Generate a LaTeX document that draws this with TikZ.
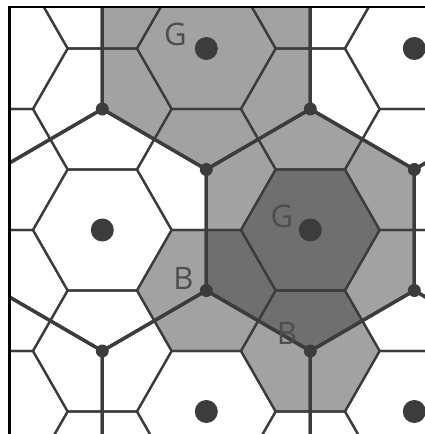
\documentclass[tikz,border=0pt]{standalone}
\usepackage{fontspec}
\setsansfont{Open Sans}
\definecolor{edge}{HTML}{3C3C3C}
\definecolor{lightfill}{HTML}{A2A2A2}
\definecolor{darkfill}{HTML}{6F6F6F}
\definecolor{letter}{HTML}{4D4D4D}
\tikzset{
  thinedge/.style={draw=edge, line width=2.2pt, line join=round},
  thickedge/.style={draw=edge, line width=3.3pt, line join=round},
  tag/.style={text=letter, font=\sffamily\fontsize{31}{31}\selectfont, inner sep=0pt},
}
% small flat-topped cell centred at lattice point (#1,#2)
\newcommand\cellpath[2]{({#1-2/3},#2) -- ({#1-1/3},{#2-1}) -- ({#1+1/3},{#2-1}) -- ({#1+2/3},#2) -- ({#1+1/3},{#2+1}) -- ({#1-1/3},{#2+1}) -- cycle}
% large pointy-topped zone centred at lattice point (#1,#2)
\newcommand\zonepath[2]{(#1,{#2-2}) -- ({#1+1},{#2-1}) -- ({#1+1},{#2+1}) -- (#1,{#2+2}) -- ({#1-1},{#2+1}) -- ({#1-1},{#2-1}) -- cycle}
\begin{document}
\begin{tikzpicture}[x=1pt,y=-1pt]
\useasboundingbox (0,0) rectangle (425,434);
\fill[white] (0,0) rectangle (425,434);
\begin{scope}
  \clip (9.6,7) rectangle (426,435);
  \begin{scope}[shift={(102.3,230)}, x={(104pt,0pt)}, y={(0pt,-60.5pt)}]
    % shaded zones
    \fill[lightfill] \zonepath{1}{-3};
    \fill[lightfill] \zonepath{2}{0};
    \fill[lightfill] \cellpath{1}{1};
    \fill[lightfill] \cellpath{2}{2};
    \begin{scope}
      \clip \zonepath{2}{0};
      \fill[darkfill] \cellpath{1}{1};
      \fill[darkfill] \cellpath{2}{2};
    \end{scope}
    \fill[darkfill] \cellpath{2}{0};
    % small cells
    \foreach \i in {-2,...,5} \foreach \j in {-6,...,6} {
      \ifodd\numexpr\i+\j+20\relax\else \path[thinedge] \cellpath{\i}{\j}; \fi
    }
    % large zones
    \foreach \m in {-2,...,3} \foreach \n in {-2,...,2} {
      \pgfmathtruncatemacro\zi{2*\m+\n}
      \pgfmathtruncatemacro\zj{3*\n}
      \path[thickedge] \zonepath{\zi}{\zj};
    }
    % zone centre sites
    \foreach \m in {-2,...,3} \foreach \n in {-2,...,2} {
      \pgfmathtruncatemacro\zi{2*\m+\n}
      \pgfmathtruncatemacro\zj{3*\n}
      \fill[edge] (\zi,\zj) circle[radius=11.5pt];
    }
    % zone corners
    \foreach \i in {-2,...,5} \foreach \j in {-6,...,6} {
      \ifodd\numexpr\i+\j+20\relax\else
        \pgfmathtruncatemacro\cls{mod((\j-3*\i)/2+300,3)}
        \ifnum\cls=0\else \fill[edge] (\i,\j) circle[radius=6.5pt]; \fi
      \fi
    }
  \end{scope}
\end{scope}
% labels
\node[tag] (g1) at (175.5,34) {G};
\node[tag] (g2) at (282,216.5) {G};
\node[tag] (b1) at (183.5,278) {B};
\node[tag] (b2) at (287,333.5) {B};
% frame
\draw[black, line width=2.5pt] (9.6,434) -- (9.6,7) -- (425,7);
\end{tikzpicture}
\end{document}
